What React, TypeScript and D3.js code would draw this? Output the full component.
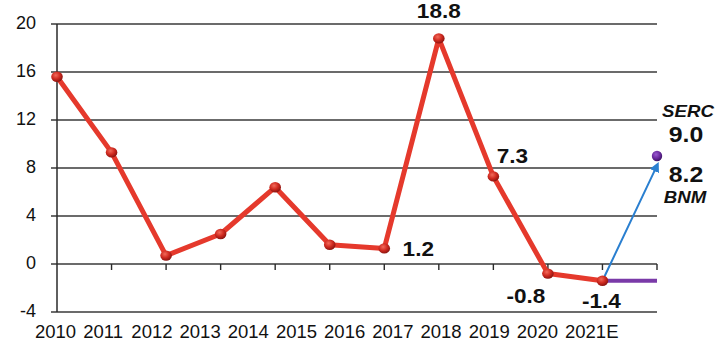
import React from "react";
import * as d3 from "d3";

const years = ["2010", "2011", "2012", "2013", "2014", "2015", "2016", "2017", "2018", "2019", "2020", "2021E"];
const growth = [15.6, 9.3, 0.7, 2.5, 6.4, 1.6, 1.3, 18.8, 7.3, -0.8, -1.4];
const bnmPath = [-0.8, -1.4, 8.2];
const sercPath = [-1.4, -1.4];
const sercPoint = 9.0;
const yTicks = [-4, 0, 4, 8, 12, 16, 20];
const valueLabels = [
  { i: 7, text: "18.8" },
  { i: 8, text: "7.3" },
  { i: 6, text: "1.2" },
  { i: 9, text: "-0.8" },
  { i: 10, text: "-1.4" },
];

const W = 725;
const H = 362;
const FONT = "'Liberation Sans', Arial, sans-serif";

function Stretched(props: {
  x: number;
  y: number;
  size: number;
  italic?: boolean;
  children: React.ReactNode;
}) {
  return (
    <text
      transform={`translate(${props.x},${props.y}) scale(1.13,1)`}
      textAnchor="middle"
      fontSize={props.size}
      fontWeight="bold"
      fontStyle={props.italic ? "italic" : "normal"}
      fill="#111"
    >
      {props.children}
    </text>
  );
}

export default function App() {
  const x = d3.scaleLinear().domain([0, 11]).range([57, 657]);
  const y = d3.scaleLinear().domain([-4, 20]).range([312, 24]);
  const xl = d3.scaleLinear().domain([0, 11]).range([35, 565]);

  const line = d3
    .line<[number, number]>()
    .x((d) => x(d[0]))
    .y((d) => y(d[1]));

  const redPts: [number, number][] = growth.map((v, i) => [i, v]);
  const bluePts: [number, number][] = bnmPath.map((v, k) => [9 + k, v]);
  const purplePts: [number, number][] = sercPath.map((v, k) => [10 + k, v]);

  const labelPos: Record<number, { dx: number; y: number }> = {
    7: { dx: 0, y: 18 },
    8: { dx: 19, y: 163 },
    6: { dx: 34, y: 256 },
    9: { dx: -22, y: 303 },
    10: { dx: -1, y: 308 },
  };

  return (
    <svg
      width={W}
      height={H}
      style={{ position: "absolute", left: 0, top: 0, background: "#fff" }}
      fontFamily={FONT}
    >
      <defs>
        <radialGradient id="redBall" cx="40%" cy="35%" r="65%">
          <stop offset="0%" stopColor="#f26a5a" />
          <stop offset="55%" stopColor="#cf2a20" />
          <stop offset="100%" stopColor="#8c1410" />
        </radialGradient>
        <radialGradient id="purpleBall" cx="40%" cy="35%" r="65%">
          <stop offset="0%" stopColor="#9a5ad0" />
          <stop offset="60%" stopColor="#6a2a9e" />
          <stop offset="100%" stopColor="#3e1466" />
        </radialGradient>
        <marker
          id="arrow"
          viewBox="0 0 10 10"
          refX="6"
          refY="5"
          markerWidth="5"
          markerHeight="5"
          orient="auto"
        >
          <path d="M0,0 L10,5 L0,10 z" fill="#2a7fd0" />
        </marker>
      </defs>

      {yTicks.map((t) => (
        <line
          key={t}
          x1={51}
          x2={x(11)}
          y1={y(t)}
          y2={y(t)}
          stroke="#3a3a3a"
          strokeWidth={1.4}
        />
      ))}
      <line x1={x(0)} x2={x(0)} y1={y(20)} y2={y(-4)} stroke="#2a2a2a" strokeWidth={1.5} />
      {d3.range(1, 12).map((i) => (
        <line key={i} x1={x(i)} x2={x(i)} y1={y(0)} y2={y(0) + 6} stroke="#2a2a2a" strokeWidth={1.4} />
      ))}

      {yTicks.map((t) => (
        <text key={t} x={36} y={y(t) + 4.5} textAnchor="end" fontSize={18} fill="#111">
          {t}
        </text>
      ))}

      {years.map((yr, i) => (
        <text key={yr} x={xl(i)} y={338} fontSize={18.5} fill="#111">
          {yr}
        </text>
      ))}

      <path
        d={line(bluePts) || ""}
        fill="none"
        stroke="#2a7fd0"
        strokeWidth={2}
        markerEnd="url(#arrow)"
      />
      <path d={line(purplePts) || ""} fill="none" stroke="#7a3aa8" strokeWidth={4} />

      <path
        d={line(redPts) || ""}
        fill="none"
        stroke="#e5392c"
        strokeWidth={5}
        strokeLinejoin="round"
      />
      {redPts.map(([i, v]) => (
        <ellipse key={i} cx={x(i)} cy={y(v)} rx={5.8} ry={5.2} fill="url(#redBall)" />
      ))}
      <circle cx={x(11)} cy={y(sercPoint)} r={5.2} fill="url(#purpleBall)" />

      {valueLabels.map((l) => (
        <Stretched key={l.i} x={x(l.i) + labelPos[l.i].dx} y={labelPos[l.i].y} size={20}>
          {l.text}
        </Stretched>
      ))}

      <Stretched x={688} y={117} size={16.5} italic>
        SERC
      </Stretched>
      <Stretched x={686} y={142} size={22}>
        {sercPoint.toFixed(1)}
      </Stretched>
      <Stretched x={686} y={182} size={22}>
        {bnmPath[bnmPath.length - 1].toFixed(1)}
      </Stretched>
      <Stretched x={685} y={203} size={16.5} italic>
        BNM
      </Stretched>
    </svg>
  );
}
